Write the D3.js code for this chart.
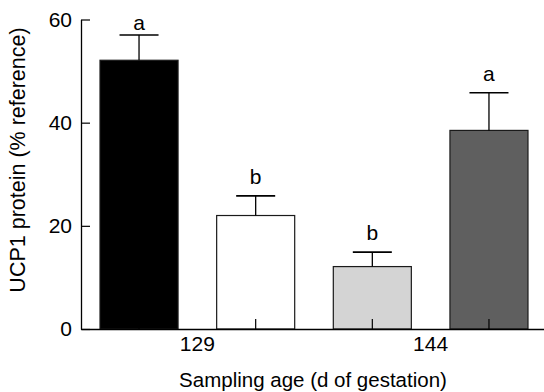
<!DOCTYPE html>
<html>
<head>
<meta charset="utf-8">
<script src="https://cdn.jsdelivr.net/npm/d3@7"></script>
<style>
  body { margin: 0; background: #fff; }
  text { font-family: "Liberation Sans", Arial, Helvetica, sans-serif; fill: #000; }
</style>
</head>
<body>
<script>
// chart size
var width = 544;
var height = 392;

// data
var bars = ["129-a", "129-b", "144-a", "144-b"];
var groupOf = ["129", "129", "144", "144"];
var means = [52.1, 22.0, 12.1, 38.5];
var errs = [4.9, 3.8, 2.8, 7.3];
var letters = ["a", "b", "b", "a"];
var fills = ["#000000", "#ffffff", "#d4d4d4", "#5f5f5f"];
var groups = ["129", "144"];
var yTicks = [0, 20, 40, 60];

var tickFont = 21;
var titleFont = 20.5;

var svg = d3.select("body")
    .append("svg")
    .attr("width", width)
    .attr("height", height);

// scales
var x = d3.scaleBand()
    .domain(bars)
    .range([81, 547])
    .paddingInner(0.331)
    .paddingOuter(0.163);

var y = d3.scaleLinear()
    .domain([0, 60])
    .range([329, 19.5]);

// y axis, ticks pointing inward
var yAxis = svg.append("g")
    .attr("transform", "translate(81,0)")
    .call(d3.axisLeft(y).tickValues(yTicks).tickSizeInner(-9).tickSizeOuter(0).tickPadding(9));
yAxis.selectAll("text").attr("font-size", tickFont).style("font-family", null);
yAxis.attr("font-family", null);

// bars
svg.selectAll("rect.bar")
    .data(bars)
    .enter()
    .append("rect")
    .attr("class", "bar")
    .attr("x", function (d) { return x(d); })
    .attr("y", function (d, i) { return y(means[i]); })
    .attr("width", x.bandwidth())
    .attr("height", function (d, i) { return y(0) - y(means[i]); })
    .style("fill", function (d, i) { return fills[i]; })
    .style("stroke", "#1a1a1a")
    .style("stroke-width", 1.2);

// error bars
var eb = svg.selectAll("g.err")
    .data(bars)
    .enter()
    .append("g")
    .attr("class", "err");

eb.append("line")
    .attr("x1", function (d) { return x(d) + x.bandwidth() / 2; })
    .attr("x2", function (d) { return x(d) + x.bandwidth() / 2; })
    .attr("y1", function (d, i) { return y(means[i]); })
    .attr("y2", function (d, i) { return y(means[i] + errs[i]); })
    .style("stroke", "#000")
    .style("stroke-width", 1.3);

eb.append("line")
    .attr("x1", function (d) { return x(d) + x.bandwidth() / 4; })
    .attr("x2", function (d) { return x(d) + x.bandwidth() * 3 / 4; })
    .attr("y1", function (d, i) { return y(means[i] + errs[i]); })
    .attr("y2", function (d, i) { return y(means[i] + errs[i]); })
    .style("stroke", "#000")
    .style("stroke-width", 1.6);

// significance letters
eb.append("text")
    .attr("x", function (d) { return x(d) + x.bandwidth() / 2; })
    .attr("y", function (d, i) { return Math.max(y(means[i] + errs[i]) - 12, y(60) + 10); })
    .attr("text-anchor", "middle")
    .attr("font-size", tickFont)
    .text(function (d, i) { return letters[i]; });

// x axis: inward ticks at bar centres
var xAxis = svg.append("g")
    .attr("transform", "translate(0," + y(0) + ")")
    .call(d3.axisBottom(x).tickSizeInner(-10).tickSizeOuter(0).tickFormat(""));

svg.selectAll(".domain").style("stroke-width", 1.3);
svg.selectAll(".tick line").style("stroke-width", 1.2);

// group labels centred between their two bars
svg.selectAll("text.group")
    .data(groups)
    .enter()
    .append("text")
    .attr("class", "group")
    .attr("x", function (g) {
        var cs = bars.filter(function (b, i) { return groupOf[i] == g; })
            .map(function (b) { return x(b) + x.bandwidth() / 2; });
        return d3.mean(cs);
    })
    .attr("y", 351)
    .attr("text-anchor", "middle")
    .attr("font-size", tickFont)
    .text(function (g) { return g; });

// axis titles
svg.append("text")
    .attr("x", 313)
    .attr("y", 387)
    .attr("text-anchor", "middle")
    .attr("font-size", titleFont)
    .text("Sampling age (d of gestation)");

svg.append("text")
    .attr("transform", "translate(25,160) rotate(-90)")
    .attr("text-anchor", "middle")
    .attr("font-size", 21.5)
    .text("UCP1 protein (% reference)");
</script>
</body>
</html>
